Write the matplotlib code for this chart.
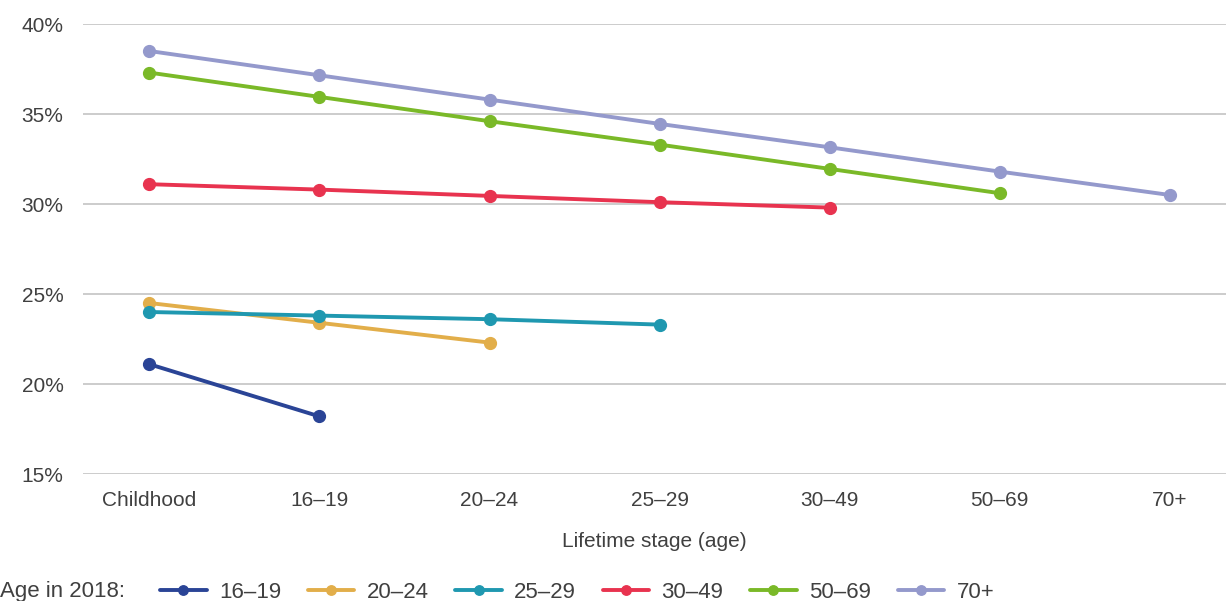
import matplotlib
matplotlib.use("Agg")
import matplotlib.pyplot as plt
from matplotlib.ticker import FuncFormatter

plt.rcParams['font.family'] = ['Liberation Sans', 'DejaVu Sans']

stages = ["Childhood", "16–19", "20–24", "25–29", "30–49", "50–69", "70+"]
groups = ["16–19", "20–24", "25–29", "30–49", "50–69", "70+"]
colors = ["#2a4496", "#e2ae4a", "#1f98b0", "#e8334f", "#7ab928", "#9499cc"]

v_16_19 = [21.1, 18.2]
v_20_24 = [24.5, 23.4, 22.3]
v_25_29 = [24.0, 23.8, 23.6, 23.3]
v_30_49 = [31.1, 30.8, 30.45, 30.1, 29.8]
v_50_69 = [37.3, 35.95, 34.6, 33.3, 31.95, 30.6]
v_70p = [38.5, 37.15, 35.8, 34.45, 33.15, 31.8, 30.5]
series = [v_16_19, v_20_24, v_25_29, v_30_49, v_50_69, v_70p]

W, H = 1226, 601
fig = plt.figure(figsize=(W / 100, H / 100), dpi=100)
ax = fig.add_axes([83 / W, 1 - 474 / H, (W - 83) / W, (474 - 24) / H])

txt = "#404040"
fs = 15
lfs = 16
for name, vals, c in zip(groups, series, colors):
    ax.plot(range(len(vals)), vals, color=c, lw=2.8, marker="o", ms=8.5,
            label=name, solid_capstyle="round", zorder=3)

ax.set_ylim(15, 40)
ax.set_yticks([15, 20, 25, 30, 35, 40])
ax.yaxis.set_major_formatter(FuncFormatter(lambda v, p: f"{v:.0f}%"))
ax.set_xlim(-0.39, 6.33)
ax.set_xticks(range(len(stages)))
ax.set_xticklabels(stages)
ax.grid(axis="y", color="#bfbfbf", lw=1.1)
ax.set_axisbelow(True)
for s in ax.spines.values():
    s.set_visible(False)
ax.tick_params(axis="both", length=0, labelsize=fs, colors=txt)
ax.tick_params(axis="y", pad=14)
ax.tick_params(axis="x", pad=12)
ax.set_xlabel("Lifetime stage (age)", fontsize=fs, color=txt, labelpad=16)

fig.text(0 / W, 1 - 592 / H, "Age in 2018:", fontsize=lfs, color=txt, va="center", ha="left")
leg = fig.legend(loc="center left", bbox_to_anchor=(160 / W, 1 - 592 / H), ncol=6,
                 frameon=False, fontsize=lfs, handlelength=2.1, handletextpad=0.55,
                 columnspacing=1.2, labelcolor=txt, borderaxespad=0, borderpad=0,
                 markerscale=0.8)
fig.savefig("out.png", dpi=100)
